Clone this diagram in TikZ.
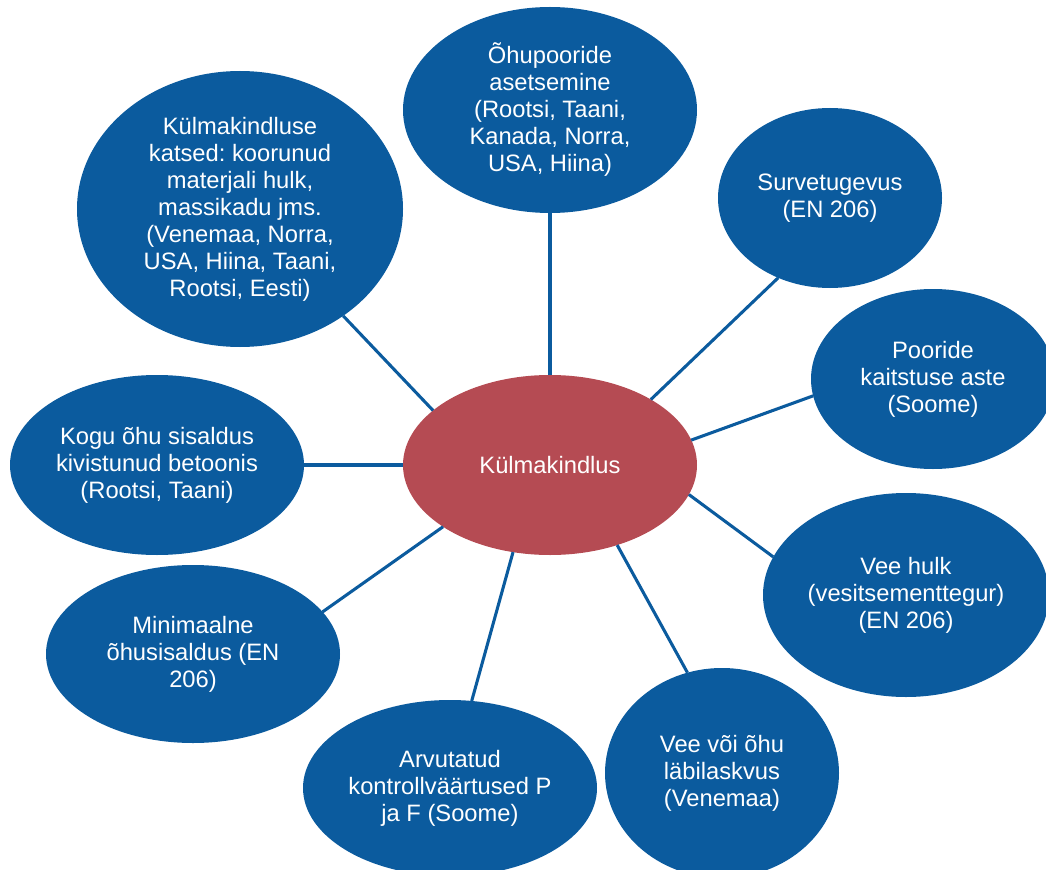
\documentclass[tikz,border=0pt]{standalone}
\usepackage{fontspec}
\setmainfont{Liberation Sans}
\usetikzlibrary{shapes.geometric}
\frenchspacing
\definecolor{blueF}{RGB}{11,91,158}
\definecolor{redF}{RGB}{181,75,83}
\tikzset{
  bub/.style={ellipse, fill=blueF, draw=none, text=white, align=center, inner sep=0pt, outer sep=0pt,
    font=\fontsize{17.8}{20.25}\selectfont\frenchspacing},
  hub/.style={bub, fill=redF},
  conn/.style={draw=blueF, line width=2.3pt}
}
\begin{document}
\begin{tikzpicture}[x=0.75pt,y=-0.75pt]
\useasboundingbox (0,0) rectangle (1046,870);
\node[hub, minimum width=220.5pt, minimum height=135pt] (c) at (550,465) {Külmakindlus};
\node[bub, minimum width=220.5pt, minimum height=154.5pt] (n1) at (550,110) {Õhupooride\\asetsemine\\(Rootsi, Taani,\\Kanada, Norra,\\USA, Hiina)};
\node[bub, minimum width=244.5pt, minimum height=207pt] (n2) at (240,209) {Külmakindluse\\katsed: koorunud\\materjali hulk,\\massikadu jms.\\(Venemaa, Norra,\\USA, Hiina, Taani,\\Rootsi, Eesti)};
\node[bub, minimum width=168pt, minimum height=135pt] (n3) at (830,198) {Survetugevus\\(EN 206)};
\node[bub, minimum width=183pt, minimum height=135pt] (n4) at (933,379) {Pooride\\kaitstuse aste\\(Soome)};
\node[bub, minimum width=214.5pt, minimum height=153pt] (n5) at (906,595) {Vee hulk\\(vesitsementtegur)\\(EN 206)};
\node[bub, minimum width=175.5pt, minimum height=157.5pt] (n6) at (722,773) {Vee või õhu\\läbilaskvus\\(Venemaa)};
\node[bub, minimum width=220.5pt, minimum height=132pt] (n7) at (450,788) {Arvutatud\\kontrollväärtused P\\ja F (Soome)};
\node[bub, minimum width=220.5pt, minimum height=133.5pt] (n8) at (193,654) {Minimaalne\\õhusisaldus (EN\\206)};
\node[bub, minimum width=220.5pt, minimum height=135pt] (n9) at (157,465) {Kogu õhu sisaldus\\kivistunud betoonis\\(Rootsi, Taani)};
\draw[conn] (c.155) -- (n2.-46.4);
\draw[conn] (c.90) -- (n1.270);
\draw[conn] (c.33) -- (n3.237.6);
\draw[conn] (c.10.8) -- (n4.188.9);
\draw[conn] (c.-12.1) -- (n5.164.2);
\draw[conn] (c.310.4) -- (n6.109.6);
\draw[conn] (c.247.4) -- (n7.76.6);
\draw[conn] (c.210.3) -- (n8.18.4);
\draw[conn] (c.180) -- (n9.0);
\end{tikzpicture}
\end{document}
